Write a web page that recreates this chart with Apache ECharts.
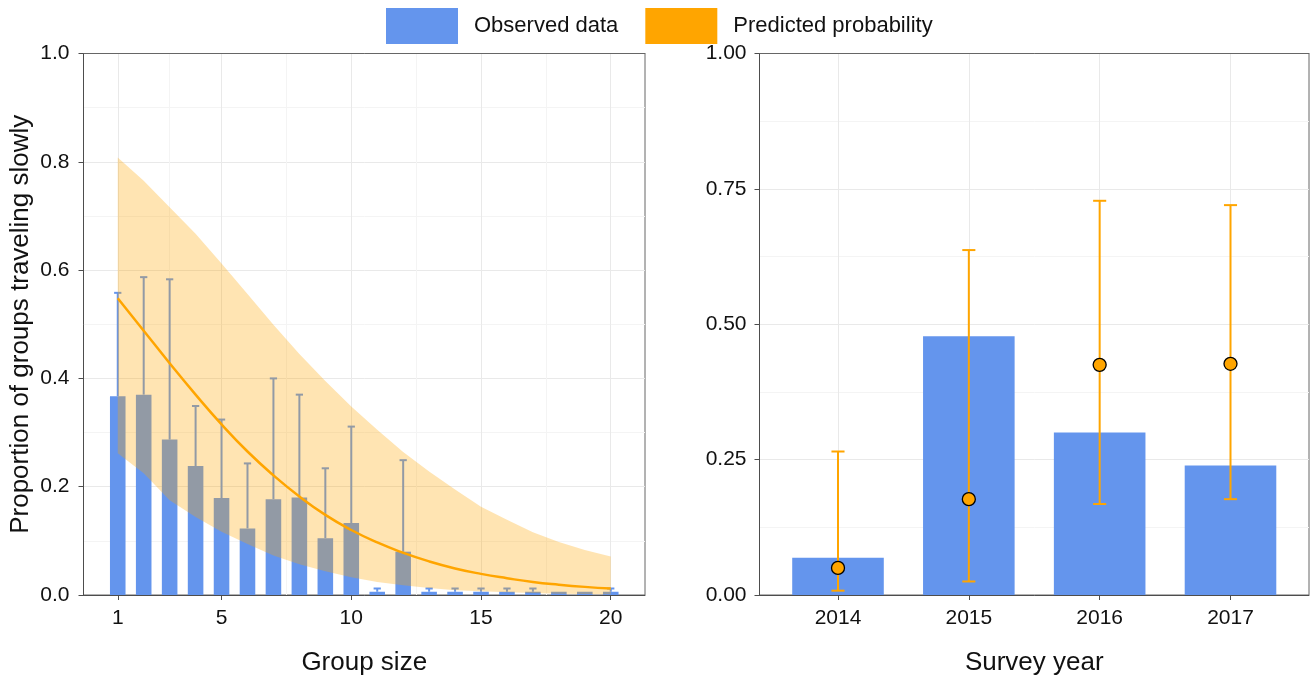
<!DOCTYPE html>
<html>
<head>
<meta charset="utf-8">
<script src="https://cdn.jsdelivr.net/npm/echarts@6/dist/echarts.min.js"></script>
<style>
html,body{margin:0;padding:0;background:#fff;}
#chart{width:1311px;height:681px;}
</style>
</head>
<body>
<div id="chart"></div>
<script>
// ---------------- data: left panel (group size) ----------------
const groupSizes = [1,2,3,4,5,6,7,8,9,10,11,12,13,14,15,16,17,18,19,20];
const observedProp = [0.367,0.370,0.287,0.238,0.179,0.123,0.177,0.180,0.105,0.133,0.006,0.080,0.006,0.006,0.006,0.006,0.006,0.006,0.006,0.006];
const observedUpper = [0.558,0.587,0.583,0.349,0.324,0.243,0.400,0.370,0.234,0.311,0.012,0.249,0.012,0.012,0.012,0.012,0.012,null,null,0.012];
const predicted = [0.548,0.488,0.428,0.370,0.315,0.265,0.221,0.182,0.148,0.120,0.097,0.078,0.062,0.049,0.039,0.031,0.024,0.019,0.015,0.012];
const predLower = [0.262,0.225,0.175,0.144,0.117,0.094,0.073,0.057,0.044,0.033,0.024,0.018,0.013,0.009,0.007,0.005,0.0035,0.0025,0.0018,0.0012];
const predUpper = [0.808,0.765,0.716,0.667,0.612,0.556,0.499,0.445,0.395,0.348,0.305,0.264,0.228,0.195,0.163,0.139,0.116,0.098,0.083,0.071];
const groupTicks = [1,5,10,15,20];
const groupMinorGrid = [3,7.5,12.5,17.5];

// ---------------- data: right panel (survey year) ----------------
const years = ['2014','2015','2016','2017'];
const yearObserved = [0.069,0.478,0.300,0.239];
const yearPredicted = [0.050,0.177,0.425,0.427];
const yearLower = [0.008,0.025,0.168,0.177];
const yearUpper = [0.265,0.637,0.728,0.720];

// ---------------- styles ----------------
const BLUE = '#6495ED';
const ORANGE = '#FFA500';
const FONT = 'Liberation Sans, Arial, sans-serif';
const AXIS_COL = '#4d4d4d';
const BORDER_COL = '#666';
const GRID_MAJOR = '#e9e9e9';
const GRID_MINOR = '#f4f4f4';

const G0 = {left: 83.5, top: 53.5, width: 561.5, height: 543.5};
const G1 = {left: 759.5, top: 53.5, width: 549.5, height: 543.5};
const X0 = [-0.32, 21.32];
const X1 = [-0.6, 3.6];
const barW0 = 0.6 * G0.width / (X0[1] - X0[0]);
const barW1 = 0.7 * G1.width / (X1[1] - X1[0]);

function errRender(capUnits, color, lw, lowerCap) {
  return function (params, api) {
    const x = api.value(0), lo = api.value(1), hi = api.value(2);
    const a = api.coord([x, lo]), b = api.coord([x, hi]);
    const half = api.size([capUnits, 0])[0] / 2;
    const st = {stroke: color, lineWidth: lw};
    const ch = [
      {type: 'line', shape: {x1: a[0], y1: a[1], x2: b[0], y2: b[1]}, style: st},
      {type: 'line', shape: {x1: b[0] - half, y1: b[1], x2: b[0] + half, y2: b[1]}, style: st}
    ];
    if (lowerCap) ch.push({type: 'line', shape: {x1: a[0] - half, y1: a[1], x2: a[0] + half, y2: a[1]}, style: st});
    return {type: 'group', children: ch};
  };
}

const leftErr = [];
groupSizes.forEach((g, i) => { if (observedUpper[i] != null) leftErr.push([g, observedProp[i], observedUpper[i]]); });

const axisText = {color: '#111', fontSize: 21, fontFamily: FONT};
const nameText = {color: '#111', fontSize: 26, fontFamily: FONT};

const option = {
  animation: false,
  backgroundColor: '#fff',
  textStyle: {fontFamily: FONT},
  legend: {
    left: 386, top: 8, padding: 0,
    itemWidth: 72, itemHeight: 36, itemGap: 27,
    textStyle: {fontSize: 22, color: '#111', fontFamily: FONT, padding: [0, 0, 0, 11]},
    data: [
      {name: 'Observed data', icon: 'rect', itemStyle: {color: BLUE, opacity: 1}},
      {name: 'Predicted probability', icon: 'rect', itemStyle: {color: ORANGE, opacity: 1}}
    ],
    selectedMode: false
  },
  grid: [
    Object.assign({show: true, borderColor: BORDER_COL, borderWidth: 1, backgroundColor: 'transparent'}, G0),
    Object.assign({show: true, borderColor: BORDER_COL, borderWidth: 1, backgroundColor: 'transparent'}, G1)
  ],
  xAxis: [
    {
      gridIndex: 0, type: 'value', min: X0[0], max: X0[1],
      name: 'Group size', nameLocation: 'middle', nameGap: 55, nameTextStyle: nameText,
      axisLine: {show: true, onZero: false, lineStyle: {color: AXIS_COL}},
      axisTick: {show: true, length: 5, lineStyle: {color: AXIS_COL}, customValues: groupTicks},
      axisLabel: {margin: 13, customValues: groupTicks, ...axisText},
      splitLine: {show: true, lineStyle: {color: GRID_MAJOR, width: 1}}
    },
    {
      gridIndex: 0, type: 'value', min: X0[0], max: X0[1], position: 'top',
      axisLine: {show: true, onZero: false, lineStyle: {color: BORDER_COL, width: 1}}, axisLabel: {show: false},
      axisTick: {show: false, customValues: groupMinorGrid},
      splitLine: {show: true, lineStyle: {color: GRID_MINOR, width: 1}}
    },
    {
      gridIndex: 1, type: 'value', min: X1[0], max: X1[1],
      name: 'Survey year', nameLocation: 'middle', nameGap: 55, nameTextStyle: nameText,
      axisLine: {show: true, onZero: false, lineStyle: {color: AXIS_COL}},
      axisTick: {show: true, length: 5, lineStyle: {color: AXIS_COL}, customValues: [0,1,2,3]},
      axisLabel: {margin: 13, customValues: [0,1,2,3], formatter: v => years[Math.round(v)], ...axisText},
      splitLine: {show: true, lineStyle: {color: GRID_MAJOR, width: 1}}
    },
    {
      gridIndex: 1, type: 'value', min: X1[0], max: X1[1], position: 'top',
      axisLine: {show: true, onZero: false, lineStyle: {color: BORDER_COL, width: 1}},
      axisLabel: {show: false}, axisTick: {show: false}, splitLine: {show: false}
    }
  ],
  yAxis: [
    {
      gridIndex: 0, type: 'value', min: 0, max: 1, interval: 0.2,
      name: 'Proportion of groups traveling slowly', nameLocation: 'middle', nameGap: 50, nameTextStyle: nameText,
      axisLine: {show: true, onZero: false, lineStyle: {color: AXIS_COL}},
      axisTick: {show: true, length: 5, lineStyle: {color: AXIS_COL}},
      axisLabel: {margin: 14, formatter: v => v.toFixed(1), ...axisText},
      splitLine: {show: true, lineStyle: {color: GRID_MAJOR, width: 1}},
      minorTick: {show: false, splitNumber: 2},
      minorSplitLine: {show: true, lineStyle: {color: GRID_MINOR, width: 1}}
    },
    {
      gridIndex: 1, type: 'value', min: 0, max: 1, interval: 0.25,
      axisLine: {show: true, onZero: false, lineStyle: {color: AXIS_COL}},
      axisTick: {show: true, length: 5, lineStyle: {color: AXIS_COL}},
      axisLabel: {margin: 13, formatter: v => v.toFixed(2), ...axisText},
      splitLine: {show: true, lineStyle: {color: GRID_MAJOR, width: 1}},
      minorTick: {show: false, splitNumber: 2},
      minorSplitLine: {show: true, lineStyle: {color: GRID_MINOR, width: 1}}
    }
  ],
  series: [
    {
      name: 'Observed data', type: 'bar', xAxisIndex: 0, yAxisIndex: 0,
      barWidth: barW0, itemStyle: {color: BLUE}, z: 2,
      data: groupSizes.map((g, i) => [g, observedProp[i]])
    },
    {
      name: 'Observed data', type: 'custom', xAxisIndex: 0, yAxisIndex: 0, z: 3,
      renderItem: errRender(0.28, BLUE, 2, false),
      encode: {x: 0, y: [1, 2]},
      data: leftErr
    },
    {
      name: 'Predicted probability', type: 'custom', xAxisIndex: 0, yAxisIndex: 0, z: 4,
      encode: {x: 0, y: [1, 2]},
      data: groupSizes.map((g, i) => [g, predLower[i], predUpper[i]]),
      renderItem: function (params, api) {
        if (params.dataIndex !== 0) return null;
        const pts = [];
        for (let i = 0; i < groupSizes.length; i++) pts.push(api.coord([groupSizes[i], predUpper[i]]));
        for (let i = groupSizes.length - 1; i >= 0; i--) pts.push(api.coord([groupSizes[i], predLower[i]]));
        return {type: 'polygon', shape: {points: pts}, style: {fill: 'rgba(255,165,0,0.3)', stroke: null}};
      }
    },
    {
      name: 'Predicted probability', type: 'line', xAxisIndex: 0, yAxisIndex: 0, z: 5,
      smooth: true, showSymbol: false, symbol: 'none',
      lineStyle: {color: ORANGE, width: 2.5}, itemStyle: {color: ORANGE},
      data: groupSizes.map((g, i) => [g, predicted[i]])
    },
    {
      name: 'Observed data', type: 'bar', xAxisIndex: 2, yAxisIndex: 1,
      barWidth: barW1, itemStyle: {color: BLUE}, z: 2,
      data: years.map((y, i) => [i, yearObserved[i]])
    },
    {
      name: 'Predicted probability', type: 'custom', xAxisIndex: 2, yAxisIndex: 1, z: 4,
      renderItem: errRender(0.1, ORANGE, 2, true),
      encode: {x: 0, y: [1, 2]},
      data: years.map((y, i) => [i, yearLower[i], yearUpper[i]])
    },
    {
      name: 'Predicted probability', type: 'scatter', xAxisIndex: 2, yAxisIndex: 1, z: 5,
      symbolSize: 13,
      itemStyle: {color: ORANGE, borderColor: '#000', borderWidth: 1.3, opacity: 1},
      data: years.map((y, i) => [i, yearPredicted[i]])
    }
  ]
};

const chart = echarts.init(document.getElementById('chart'), null, {renderer: 'canvas'});
chart.setOption(option);
</script>
</body>
</html>
